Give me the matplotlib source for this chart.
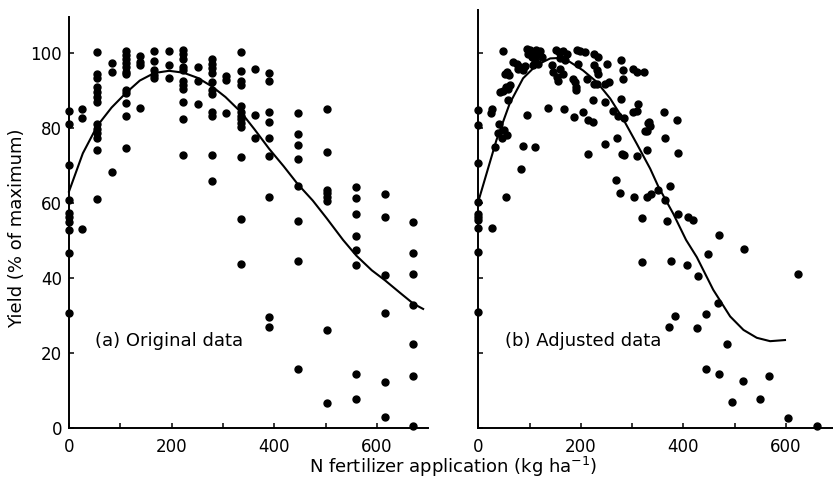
import numpy as np
import matplotlib
matplotlib.use('Agg')
import matplotlib.pyplot as plt
from matplotlib.ticker import FixedLocator

# (a) original data, one list of yields per N rate
orig_n = [0, 26, 55, 83, 111, 139, 166, 195, 223, 251,
          279, 306, 335, 362, 390, 446, 502, 559, 615, 671]
orig_yield = [
    [84.5, 81.1, 70.3, 60.8, 57.3, 56.4, 55.1, 52.8, 46.6, 30.8],
    [85.1, 82.6, 53.2],
    [100.2, 94.5, 93.4, 91, 89.6, 88.3, 87.1, 81.1, 79.7, 78.6, 77.5, 74.1, 61.2],
    [97.4, 95.0, 68.4],
    [100.7, 99.6, 98.4, 97.4, 96.2, 95.1, 94.5, 90.1, 89.4, 86.7, 83.2, 74.6],
    [99.2, 97.7, 96.8, 85.4],
    [100.5, 97.8, 95.4, 94.3, 93.4],
    [100.5, 96.9, 93.3],
    [100.8, 99.7, 98.4, 96.3, 95.4, 92.7, 91.5, 90.5, 87, 82.4, 72.8],
    [96.4, 92.7, 86.4],
    [98.5, 97.2, 96, 94.8, 92.2, 90.2, 89.2, 84.2, 83.2, 72.8, 65.8],
    [93.9, 92.8, 84.1],
    [100.2, 95.2, 92.7, 91.4, 85.8, 84.2, 83.2, 82.4, 81.3, 80.3, 72.3, 55.8, 43.8],
    [95.7, 83.6, 77.3],
    [94.8, 92.6, 84.2, 81.7, 77.3, 72.6, 61.7, 29.6, 27.1],
    [84, 78.4, 75.4, 71.7, 64.5, 55.2, 44.7, 15.7],
    [85.1, 73.7, 63.6, 62.6, 61.6, 60.5, 26.1, 6.8],
    [64.4, 61.5, 57, 51.3, 47.4, 43.6, 14.4, 7.7],
    [62.4, 56.2, 40.8, 30.6, 12.3, 3.0],
    [55.1, 46.6, 41, 32.9, 22.4, 13.8, 0.5],
]
orig_curve_n = [0, 27, 55, 83, 111, 138, 166, 195, 223, 251, 279, 305, 335,
                362, 390, 418, 445, 475, 502, 534, 560, 590, 616, 645, 671, 690]
orig_curve_y = [63.1, 73.3, 80.6, 85.5, 89.4, 92.7, 94.7, 95.3, 94.8, 93.4, 91.1,
                88.3, 84.3, 79.6, 74.5, 69.9, 65.2, 60.7, 56, 50.2, 46, 42.1,
                39.4, 36.1, 33.2, 31.8]

# (b) adjusted data, scattered N values
adj_n = [0, 0, 0, 0, 0, 0, 0, 0, 0, 0,
         26, 26, 24, 48, 54, 82, 86, 111, 94, 136, 167, 187, 203, 214, 224,
         213, 247, 271, 280, 284, 309, 329, 325, 268, 276, 304, 328, 320, 32,
         40, 38, 50, 55, 45,
         42, 47, 54, 58, 61, 52, 56, 59, 58, 68, 75, 81, 87, 78, 91,
         94, 100, 107, 113, 120, 97, 104, 110, 117, 107, 113, 123,
         151, 158, 165, 172, 143, 159, 164, 153, 156, 145, 159, 169,
         192, 198, 208, 195, 185, 188, 190, 190, 211, 226, 233, 225, 232, 233,
         231, 225, 223, 250, 255, 247, 247, 279, 281, 281, 279, 302, 309, 323,
         263, 273, 283, 302, 309, 312, 331, 328,
         361, 387, 333, 335, 364, 390, 374, 351, 336, 364, 367, 390, 409, 418, 469,
         320, 376, 406, 428, 448, 519, 624, 468, 444, 383, 372, 426, 484,
         443, 469, 517, 566, 494, 549, 603, 660]
adj_yield = [84.9, 80.8, 70.8, 60.3, 57.2, 56.3, 55.4, 53.3, 46.9, 30.9,
             53.3, 85.1, 84, 100.6, 61.7, 69, 75.3, 75, 83.4, 85.4, 85.2, 83, 84.3, 82.1, 81.6,
             73, 75.9, 77.3, 73.2, 72.8, 72.5, 74.1, 79.2, 66.2, 62.7, 61.7, 61.7, 56.1, 75,
             81, 78.7, 79.5, 78.2, 77.5,
             89.6, 90, 91, 90.5, 91.4, 94.5, 95, 94.1, 87.5, 97.7, 97.2, 96.3, 95.4, 95.9, 96.5,
             101, 100.8, 100.4, 100.8, 100.6, 99.7, 99, 98.1, 97.2, 96.8, 99.5, 99,
             100.8, 100.4, 100.6, 99.9, 96.8, 95.9, 94.5, 93.6, 92.7, 95, 98.6, 98.1,
             100.8, 100.6, 100.4, 97.2, 93.2, 92.3, 91, 90.1, 93.2, 99.9, 99, 96.8, 95.4, 94.5,
             91.8, 91.8, 87.4, 97.2, 92.3, 91.8, 86.9, 98.3, 95.4, 93.2, 87.8, 95.9, 95, 95,
             84.7, 83.3, 82.7, 84.2, 84.7, 86.5, 81.5, 79.3,
             84.3, 82.1, 81.6, 80.7, 77.3, 73.3, 64.5, 63.5, 62.4, 60.8, 55.2, 57.1, 56.2, 55.5, 51.6,
             44.2, 44.6, 43.5, 40.6, 46.5, 47.7, 41, 33.3, 30.4, 29.9, 26.9, 26.6, 22.4,
             15.9, 14.4, 12.7, 13.8, 7.1, 7.7, 2.7, 0.6]
adj_curve_n = [0, 35, 61, 87, 113, 140, 155, 178, 204, 231, 257, 282, 309,
               335, 351, 380, 405, 426, 458, 491, 517, 543, 569, 598]
adj_curve_y = [60.6, 76.8, 86.6, 93.3, 96.8, 98.6, 98.7, 97.7, 95.4, 92.3, 87.9,
               82.5, 75.8, 69.2, 64.4, 57.2, 50.2, 45.6, 36.9, 29.8, 26.2, 24.1,
               23.2, 23.5]

panel_labels = ['(a) Original data', '(b) Adjusted data']

plt.rcParams['font.family'] = 'DejaVu Sans'
fig = plt.figure(figsize=(8.33, 4.83), dpi=100)
ax1 = fig.add_axes([0.0828, 0.1135, 0.4313, 0.8517])
ax2 = fig.add_axes([0.5744, 0.1135, 0.4258, 0.8657])

ox = np.concatenate([[n] * len(ys) for n, ys in zip(orig_n, orig_yield)])
oy = np.concatenate(orig_yield)

ax1.plot(ox, oy, 'o', color='black', markersize=5, clip_on=False)
ax1.plot(orig_curve_n, orig_curve_y, color='black', lw=1.5, clip_on=False)
ax2.plot(adj_n, adj_yield, 'o', color='black', markersize=5, clip_on=False)
ax2.plot(adj_curve_n, adj_curve_y, color='black', lw=1.5, clip_on=False)

ax1.set_xlim(0, 700)
ax1.set_ylim(0, 109.7)
ax2.set_xlim(0, 692)
ax2.set_ylim(0, 111.5)

for ax, lab in zip((ax1, ax2), panel_labels):
    ax.spines['top'].set_visible(False)
    ax.spines['right'].set_visible(False)
    ax.spines['left'].set_linewidth(1.4)
    ax.spines['bottom'].set_linewidth(1.4)
    ax.set_xticks([0, 200, 400, 600])
    ax.xaxis.set_minor_locator(FixedLocator([100, 300, 500]))
    ax.set_yticks([0, 20, 40, 60, 80, 100])
    ax.tick_params(which='both', direction='in', length=3.5, width=1.1, labelsize=12)
    ax.tick_params(axis='x', pad=7)
    ax.tick_params(axis='y', pad=5)
    ax.text(51, 23.3, lab, ha='left', va='center', fontsize=13)
ax2.tick_params(axis='y', labelleft=False)

fig.text(17 / 833, 1 - 228 / 483, 'Yield (% of maximum)', rotation=90,
         ha='center', va='center', fontsize=13)
fig.text(453 / 833, 1 - 467 / 483, r'N fertilizer application (kg ha$^{-1}$)',
         ha='center', va='center', fontsize=13)

plt.savefig('out.png', dpi=100)
